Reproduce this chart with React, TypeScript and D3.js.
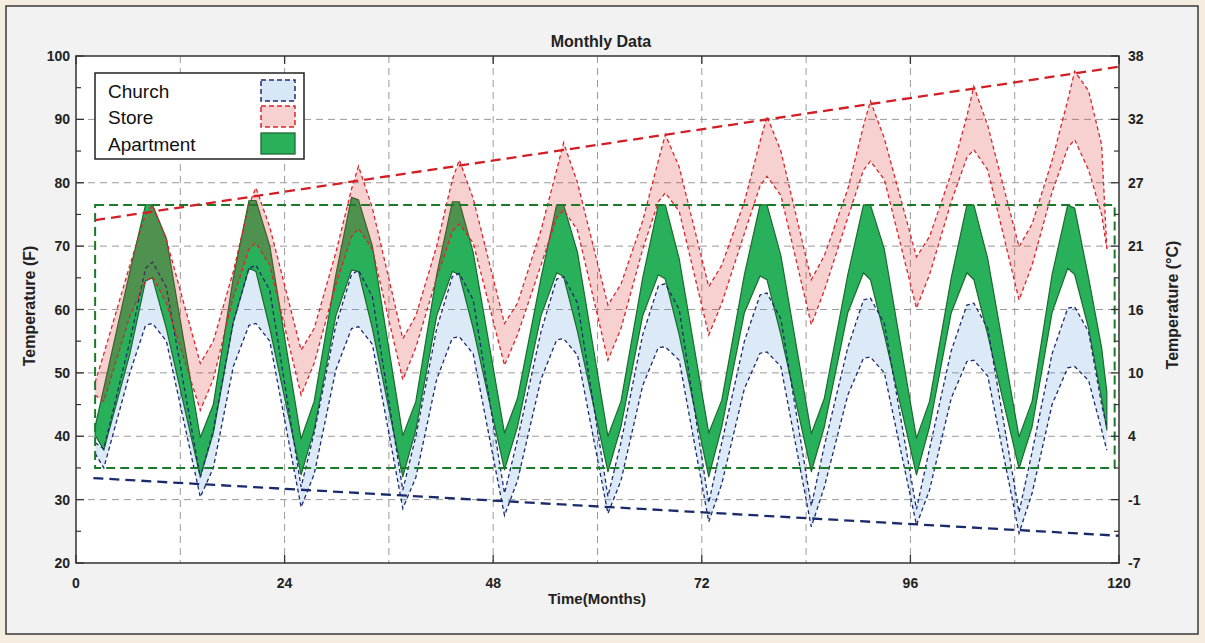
import React from 'react';
import * as d3 from 'd3';

// ---------- data ----------
const months = [2.2, 3.2,
  6.2, 8.0, 8.8, 10.4, 14.3, 15.8,
  18.1, 19.9, 20.7, 22.3, 25.9, 27.4,
  29.9, 31.7, 32.5, 34.1, 37.6, 39.1,
  41.5, 43.3, 44.1, 45.7, 49.3, 50.8,
  53.5, 55.3, 56.1, 57.7, 61.2, 62.7,
  65.2, 67.0, 67.8, 69.4, 72.8, 74.3,
  76.9, 78.7, 79.5, 81.1, 84.6, 86.1,
  88.8, 90.6, 91.4, 93.0, 96.7, 98.2,
  100.7, 102.5, 103.3, 104.9, 108.5, 110.0,
  112.3, 114.1, 114.9, 116.5, 118.0, 118.6];

const aptHigh = [41.5, 47.6,
  66, 76.5, 76.5, 71.2, 39.8, 45,
  65, 77.2, 77.2, 70, 39.6, 45.5,
  65.5, 77.7, 77.3, 70, 40.1, 45.5,
  65.5, 77, 77, 69, 40.5, 46,
  65, 76.5, 76.5, 69, 40, 45.5,
  65, 76.5, 76.5, 68, 40.5, 45.7,
  65.5, 76.5, 76.5, 68.5, 40.4, 46,
  65.5, 76.5, 76.5, 69.5, 39.7, 45.5,
  65, 76.5, 76.5, 68, 39.9, 45.5,
  65.5, 76.5, 76, 65, 54, 47];

const aptLow = [40.2, 37.8,
  53, 64.5, 65, 57, 33.6, 40.5,
  58, 66.5, 66, 57, 33.9, 41,
  59, 66.2, 66, 57, 33.6, 41,
  59, 66, 65.5, 57, 34.7, 41.5,
  59, 65.8, 65.2, 56.5, 34.4, 41.5,
  59, 65.5, 64.8, 56, 33.6, 41.5,
  59.5, 65.3, 64.7, 56, 34.4, 41.5,
  59.5, 65.8, 64.7, 56, 33.9, 41.5,
  59.5, 65.8, 64.7, 56, 34.9, 41.5,
  59.5, 66.5, 65.5, 57, 46, 41];

const churchHigh = [39, 38,
  55, 66.5, 67.5, 63.5, 33.5, 41,
  58, 66.5, 67, 63, 32, 40.5,
  57.5, 65.5, 66.2, 62, 31.5, 40,
  57, 65.2, 65.7, 61.5, 31, 39.5,
  56.5, 64.8, 65.2, 61, 30.5, 39,
  56, 63.7, 64.1, 60, 29.5, 39,
  55, 62.3, 62.6, 58.5, 29, 38.5,
  54, 61.5, 61.8, 57.8, 28.5, 38,
  53.5, 60.7, 61, 57, 28, 37.5,
  53, 60.2, 60.4, 56.5, 45, 41.4];

const churchLow = [37.3, 35,
  50, 57.5, 57.8, 55, 30.4, 35,
  51, 57.5, 57.8, 55, 28.8, 34,
  50.5, 57, 57.3, 54.5, 28.6, 33.5,
  49, 55.5, 55.7, 53, 27.5, 33,
  49, 55.2, 55.4, 52.8, 27.8, 33,
  48, 54, 54.1, 52, 26.5, 32.5,
  47.5, 53.1, 53.3, 51, 25.7, 32,
  46.5, 52.3, 52.5, 50, 26, 31.5,
  46, 51.8, 52, 49.5, 24.7, 31,
  45, 50.8, 51, 48.8, 41, 37.8];

const storeHigh = [48.5, 53,
  67, 75, 76.5, 71, 51.5, 55,
  66, 76.5, 79.2, 73, 53.6, 57,
  69, 79, 82.6, 76, 55.4, 59,
  70, 80.5, 83.6, 77.5, 57.8, 61,
  72.5, 82, 86.3, 80, 60.7, 64,
  74, 83.5, 87.6, 82.5, 63.6, 67,
  77, 86.5, 90.5, 85, 64.7, 68.5,
  79, 89, 92.9, 87, 68.3, 71.5,
  81.5, 90.5, 95.2, 89, 69.9, 73.5,
  83.5, 93, 97.6, 94.5, 86, 69.6];

const storeLow = [46.5, 45.5,
  59, 64.5, 65.2, 61, 44.1, 49,
  62, 69.5, 70.5, 67, 46.5, 51.5,
  64, 71.5, 72.8, 69.5, 48.9, 54,
  65, 72.3, 73.5, 70.5, 51.2, 56,
  67, 74.5, 75.7, 72.5, 52, 57,
  69.5, 77, 78.4, 75.5, 56, 61,
  72, 79.5, 81, 78, 57.6, 63,
  74.5, 82, 83.4, 80.5, 60.2, 65.5,
  77, 84, 85.2, 82, 61.5, 67,
  78.5, 85.5, 86.8, 82, 75, 69.6];

const storeTrendMonths = [2.2, 120];
const storeTrend = [74.1, 98.3];
const churchTrendMonths = [2.0, 120];
const churchTrend = [33.4, 24.3];
const comfortMonths = [2.2, 119.5];
const comfortRange = [35, 76.5];

const xTicks = [0, 24, 48, 72, 96, 120];
const xGrid = [12, 24, 36, 48, 60, 72, 84, 96, 108];
const yTicks = [20, 30, 40, 50, 60, 70, 80, 90, 100];
const yMinor = [25, 35, 45, 55, 65, 75, 85, 95];
const yGrid = [30, 40, 50, 60, 70, 80, 90];
const celsiusLabels = ['-7', '-1', '4', '10', '16', '21', '27', '32', '38'];
const legendNames = ['Church', 'Store', 'Apartment'];

// ---------- layout ----------
const W = 1205, H = 643;
const L = 76, R = 1119, T = 56, B = 563;
const FONT = "'Liberation Sans', Arial, Helvetica, sans-serif";

const x = d3.scaleLinear().domain([0, 120]).range([L, R]);
const y = d3.scaleLinear().domain([20, 100]).range([B, T]);
const idx = d3.range(months.length);

const band = (hi: number[], lo: number[]) =>
  d3.area<number>().x(i => x(months[i])).y0(i => y(lo[i])).y1(i => y(hi[i]))(idx) || '';
const line = (vals: number[]) =>
  d3.line<number>().x(i => x(months[i])).y(i => y(vals[i]))(idx) || '';
const seg = (ms: number[], vs: number[]) =>
  d3.line<number>().x(i => x(ms[i])).y(i => y(vs[i]))([0, 1]) || '';

const GREEN = '#28b05a';
const GREEN_EDGE = '#1d6a30';
const BLUE_FILL = 'rgba(80,145,215,0.2)';
const BLUE_LINE = '#1d2b6e';
const RED_FILL = 'rgba(220,40,40,0.22)';
const RED_LINE = '#d7262d';

export default function App() {
  const legendY = [80, 106, 133];
  return (
    <svg width={W} height={H} style={{ position: 'absolute', left: 0, top: 0 }} fontFamily={FONT}>
      <rect x={0} y={0} width={W} height={H} fill="#f5eee0" />
      <rect x={6} y={6} width={1192} height={628} fill="#f2f2f2" stroke="#3a3a3a" strokeWidth={1.5} />
      <rect x={L} y={T} width={R - L} height={B - T} fill="#ffffff" />

      {/* grid */}
      {xGrid.map(v => (
        <line key={'gx' + v} x1={x(v)} x2={x(v)} y1={T} y2={B} stroke="#9a9a9a" strokeWidth={1} strokeDasharray="7,5" />
      ))}
      {yGrid.map(v => (
        <line key={'gy' + v} x1={L} x2={R} y1={y(v)} y2={y(v)} stroke="#9a9a9a" strokeWidth={1} strokeDasharray="7,5" />
      ))}

      {/* church fill */}
      <path d={band(churchHigh, churchLow)} fill={BLUE_FILL} stroke="none" />

      {/* apartment */}
      <path d={band(aptHigh, aptLow)} fill={GREEN} stroke={GREEN_EDGE} strokeWidth={1.2} strokeLinejoin="round" />

      {/* church lines */}
      <path d={line(churchHigh)} fill="none" stroke={BLUE_LINE} strokeWidth={1.3} strokeDasharray="4,3" />
      <path d={line(churchLow)} fill="none" stroke={BLUE_LINE} strokeWidth={1.3} strokeDasharray="4,3" />

      {/* store */}
      <path d={band(storeHigh, storeLow)} fill={RED_FILL} stroke="none" />
      <path d={line(storeHigh)} fill="none" stroke={RED_LINE} strokeWidth={1.3} strokeDasharray="4,3" />
      <path d={line(storeLow)} fill="none" stroke={RED_LINE} strokeWidth={1.3} strokeDasharray="4,3" />

      {/* comfort range */}
      <rect x={x(comfortMonths[0])} y={y(comfortRange[1])} width={x(comfortMonths[1]) - x(comfortMonths[0])}
        height={y(comfortRange[0]) - y(comfortRange[1])} fill="none" stroke="#1b7a2a" strokeWidth={2} strokeDasharray="9,5" />

      {/* trends */}
      <path d={seg(storeTrendMonths, storeTrend)} fill="none" stroke="#d21f26" strokeWidth={2.3} strokeDasharray="10,6" />
      <path d={seg(churchTrendMonths, churchTrend)} fill="none" stroke="#1b2a6b" strokeWidth={2.3} strokeDasharray="10,6" />

      {/* frame */}
      <rect x={L} y={T} width={R - L} height={B - T} fill="none" stroke="#333" strokeWidth={1.5} />

      {/* ticks */}
      {yTicks.map(v => (
        <g key={'ty' + v}>
          <line x1={L} x2={L + 8} y1={y(v)} y2={y(v)} stroke="#333" strokeWidth={1.3} />
          <line x1={R} x2={R - 8} y1={y(v)} y2={y(v)} stroke="#333" strokeWidth={1.3} />
        </g>
      ))}
      {yMinor.map(v => (
        <g key={'tm' + v}>
          <line x1={L} x2={L + 5} y1={y(v)} y2={y(v)} stroke="#333" strokeWidth={1.2} />
          <line x1={R} x2={R - 5} y1={y(v)} y2={y(v)} stroke="#333" strokeWidth={1.2} />
        </g>
      ))}
      {xTicks.map(v => (
        <g key={'tx' + v}>
          <line x1={x(v)} x2={x(v)} y1={B} y2={B - 8} stroke="#333" strokeWidth={1.3} />
          <line x1={x(v)} x2={x(v)} y1={T} y2={T + 8} stroke="#333" strokeWidth={1.3} />
        </g>
      ))}

      {/* tick labels */}
      {yTicks.map(v => (
        <text key={'ly' + v} x={L - 6} y={y(v)} dy="0.36em" textAnchor="end" fontSize={14} fontWeight="bold" fill="#222">{v}</text>
      ))}
      {yTicks.map((v, i) => (
        <text key={'lc' + v} x={R + 9} y={y(v)} dy="0.36em" textAnchor="start" fontSize={14} fontWeight="bold" fill="#222">{celsiusLabels[i]}</text>
      ))}
      {xTicks.map(v => (
        <text key={'lx' + v} x={x(v)} y={588} textAnchor="middle" fontSize={14} fontWeight="bold" fill="#222">{v}</text>
      ))}

      {/* titles */}
      <text x={601} y={47} textAnchor="middle" fontSize={16} fontWeight="bold" fill="#222">Monthly Data</text>
      <text x={597} y={604} textAnchor="middle" fontSize={15} fontWeight="bold" fill="#222">Time(Months)</text>
      <text transform="translate(35,306) rotate(-90)" textAnchor="middle" fontSize={16} fontWeight="bold" fill="#222">Temperature (F)</text>
      <text transform="translate(1178,305) rotate(-90)" textAnchor="middle" fontSize={16} fontWeight="bold" fill="#222">Temperature (°C)</text>

      {/* legend */}
      <rect x={95} y={73} width={209} height={86} fill="#fff" stroke="#222" strokeWidth={1.5} />
      {legendNames.map((n, i) => (
        <text key={n} x={108} y={legendY[i] + 18} fontSize={19} fill="#111">{n}</text>
      ))}
      <rect x={261} y={legendY[0]} width={34} height={21} fill="#d8e7f6" stroke={BLUE_LINE} strokeWidth={1.5} strokeDasharray="5,3" />
      <rect x={261} y={legendY[1]} width={34} height={21} fill="#f7d0d0" stroke={RED_LINE} strokeWidth={1.5} strokeDasharray="5,3" />
      <rect x={261} y={legendY[2]} width={34} height={21} fill={GREEN} stroke={GREEN_EDGE} strokeWidth={1.3} />
    </svg>
  );
}
